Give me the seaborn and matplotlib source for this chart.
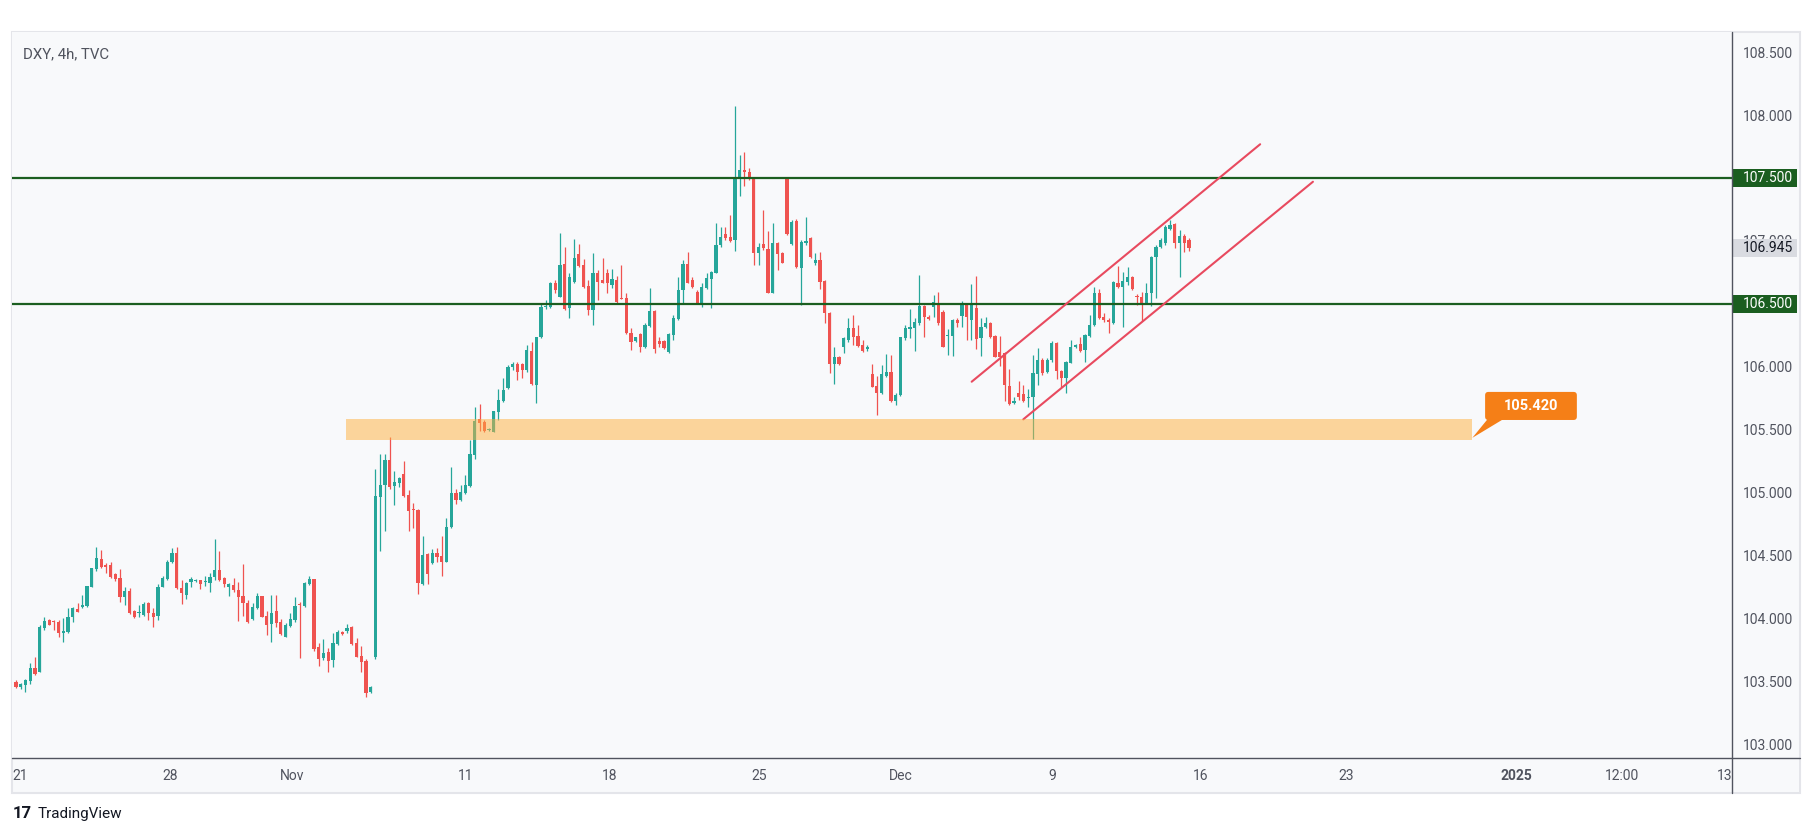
import numpy as np
import pandas as pd
import matplotlib
matplotlib.use('Agg')
import matplotlib.pyplot as plt
import matplotlib.transforms as mtransforms
from matplotlib.patches import Rectangle, Polygon, FancyBboxPatch
from matplotlib.lines import Line2D
import seaborn as sns

# ---------------- DATA (DXY, 4h candles) ----------------
OPEN = [
    103.497, 103.458, 103.471, 103.505, 103.603, 103.577, 103.926, 103.987, 103.974, 103.974,
    103.881, 103.895, 104.014, 104.072, 104.088, 104.099, 104.252, 104.390, 104.470, 104.425,
    104.425, 104.353, 104.319, 104.168, 104.221, 104.062, 104.040, 104.027, 104.120, 104.046,
    104.019, 104.252, 104.311, 104.451, 104.517, 104.239, 104.186, 104.292, 104.300, 104.305,
    104.292, 104.279, 104.327, 104.385, 104.319, 104.252, 104.266, 104.226, 104.178, 104.120,
    103.993, 104.080, 104.178, 104.019, 103.956, 104.059, 103.972, 103.855, 103.940, 103.987,
    104.107, 104.099, 104.274, 104.311, 103.776, 103.683, 103.736, 103.670, 103.794, 103.895,
    103.903, 103.929, 103.802, 103.701, 103.664, 103.418, 103.691,
    104.968, 105.061, 105.259, 105.053, 105.079, 105.148, 104.981, 104.865, 104.862, 104.274,
    104.512, 104.438, 104.517, 104.496, 104.451, 104.724, 104.994, 104.941, 104.994, 105.053,
    105.299, 105.582, 105.564, 105.500, 105.484, 105.643, 105.730, 105.828,
    105.995, 106.021, 106.021, 105.974, 106.128, 105.855, 106.233, 106.474, 106.477, 106.668,
    106.557, 106.816, 106.464, 106.676, 106.896, 106.808, 106.641, 106.451, 106.747, 106.689,
    106.742, 106.649, 106.689, 106.543, 106.543, 106.271, 106.207, 106.260, 106.154, 106.324,
    106.445, 106.207, 106.207, 106.120, 106.252, 106.377, 106.610, 106.816, 106.689, 106.596,
    106.509, 106.623, 106.695, 106.747, 106.967, 107.055, 107.033, 107.007, 107.497, 107.563,
    107.550, 107.497, 106.906, 106.975, 106.933, 106.588, 106.986, 106.901, 107.489, 106.975,
    107.161, 106.782, 106.981, 107.020, 106.822, 106.848, 106.684, 106.429,
    106.022, 106.080, 106.154, 106.212, 106.305, 106.244, 106.173, 106.138, 105.942, 105.847,
    105.789, 105.926, 105.961, 105.730, 105.775, 106.226, 106.297, 106.305, 106.345, 106.483,
    106.393, 106.472, 106.509, 106.438, 106.244, 106.244, 106.371, 106.403, 106.491, 106.371,
    106.464, 106.226, 106.313, 106.345, 106.244, 106.120, 106.112, 105.847, 105.709, 105.789,
    105.783, 105.749, 105.762, 105.942, 106.054, 105.961, 106.054, 106.191, 105.969, 105.908,
    106.032, 106.154, 106.181, 106.133, 106.244, 106.332, 106.589, 106.393, 106.371, 106.345,
    106.668, 106.636, 106.676, 106.710, 106.562, 106.557, 106.509, 106.583, 106.869, 106.949,
    106.980, 107.092, 107.134, 106.980, 107.039, 107.007,
]
HIGH = [
    103.511, 103.489, 103.516, 103.648, 103.691, 103.948, 104.014, 103.993, 103.987, 103.987,
    104.001, 104.080, 104.093, 104.120, 104.186, 104.258, 104.400, 104.570, 104.544, 104.438,
    104.451, 104.358, 104.390, 104.252, 104.239, 104.067, 104.107, 104.133, 104.133, 104.080,
    104.274, 104.337, 104.464, 104.557, 104.570, 104.305, 104.292, 104.332, 104.311, 104.307,
    104.337, 104.358, 104.628, 104.538, 104.332, 104.284, 104.319, 104.292, 104.432, 104.146,
    104.125, 104.205, 104.180, 104.059, 104.186, 104.186, 103.993, 103.961, 104.040, 104.168,
    104.133, 104.292, 104.340, 104.315, 103.802, 103.834, 103.762, 103.881, 103.908, 103.900,
    103.956, 103.940, 103.842, 103.781, 103.675, 103.463, 105.185,
    105.307, 105.307, 105.439, 105.174, 105.127, 105.254, 105.021, 104.915, 104.867, 104.655,
    104.523, 104.549, 104.557, 104.655, 104.796, 105.201, 105.026, 105.061, 105.140, 105.418,
    105.678, 105.704, 105.577, 105.512, 105.652, 105.821, 105.908, 106.014,
    106.040, 106.040, 106.027, 106.172, 106.199, 106.239, 106.498, 106.530, 106.676, 106.689,
    107.060, 106.954, 106.742, 107.012, 106.975, 106.853, 106.689, 106.901, 106.769, 106.861,
    106.774, 106.774, 106.721, 106.808, 106.588, 106.305, 106.240, 106.265, 106.345, 106.623,
    106.451, 106.239, 106.212, 106.271, 106.411, 106.716, 106.848, 106.914, 106.716, 106.610,
    106.663, 106.742, 106.763, 107.145, 107.108, 107.113, 107.206, 108.072, 107.682, 107.709,
    107.577, 107.505, 106.986, 107.245, 107.081, 107.145, 106.994, 106.914, 107.497, 107.166,
    107.171, 107.007, 107.192, 107.028, 106.906, 106.914, 106.689, 106.437,
    106.160, 106.085, 106.239, 106.385, 106.411, 106.332, 106.212, 106.173, 106.022, 105.926,
    106.014, 106.101, 106.093, 105.789, 106.239, 106.332, 106.456, 106.385, 106.729, 106.491,
    106.411, 106.570, 106.597, 106.451, 106.297, 106.377, 106.385, 106.525, 106.509, 106.658,
    106.721, 106.385, 106.393, 106.358, 106.252, 106.244, 106.120, 105.979, 105.762, 105.889,
    105.855, 105.820, 106.093, 106.146, 106.067, 106.067, 106.207, 106.199, 105.974, 106.048,
    106.212, 106.180, 106.234, 106.260, 106.411, 106.631, 106.615, 106.430, 106.385, 106.684,
    106.801, 106.756, 106.790, 106.721, 106.578, 106.597, 106.663, 106.880, 106.967, 107.020,
    107.126, 107.166, 107.145, 107.086, 107.055, 107.020,
]
LOW = [
    103.444, 103.442, 103.418, 103.479, 103.550, 103.572, 103.908, 103.945, 103.908, 103.855,
    103.815, 103.881, 103.974, 104.051, 104.080, 104.093, 104.250, 104.379, 104.398, 104.364,
    104.324, 104.300, 104.133, 104.107, 104.035, 104.001, 104.014, 104.019, 103.987, 103.934,
    103.987, 104.247, 104.305, 104.443, 104.231, 104.115, 104.152, 104.252, 104.290, 104.231,
    104.258, 104.213, 104.305, 104.300, 104.247, 104.178, 104.213, 103.982, 104.019, 103.966,
    103.987, 104.072, 104.009, 103.868, 103.815, 103.934, 103.868, 103.850, 103.934, 103.974,
    103.683, 104.093, 104.266, 103.744, 103.625, 103.670, 103.577, 103.611, 103.789, 103.870,
    103.881, 103.789, 103.691, 103.577, 103.373, 103.405, 103.680,
    104.539, 104.698, 105.026, 104.902, 105.047, 104.968, 104.698, 104.716, 104.194, 104.266,
    104.274, 104.433, 104.451, 104.340, 104.446, 104.716, 104.910, 104.936, 104.989, 105.047,
    105.267, 105.492, 105.484, 105.492, 105.480, 105.577, 105.722, 105.820,
    105.974, 105.894, 105.908, 105.961, 105.855, 105.714, 106.226, 106.456, 106.464, 106.583,
    106.551, 106.451, 106.384, 106.663, 106.795, 106.623, 106.411, 106.332, 106.530, 106.663,
    106.583, 106.623, 106.509, 106.535, 106.260, 106.133, 106.200, 106.120, 106.146, 106.313,
    106.112, 106.159, 106.138, 106.112, 106.212, 106.371, 106.509, 106.663, 106.623, 106.498,
    106.477, 106.615, 106.464, 106.742, 106.954, 107.007, 106.994, 106.922, 107.357, 107.436,
    107.484, 106.808, 106.808, 106.927, 106.583, 106.583, 106.769, 106.822, 107.047, 106.967,
    106.782, 106.490, 106.967, 106.861, 106.808, 106.615, 106.345, 105.947,
    105.863, 106.014, 106.107, 106.199, 106.173, 106.160, 106.120, 106.128, 105.836, 105.616,
    105.783, 105.921, 105.722, 105.696, 105.767, 106.212, 106.226, 106.128, 106.332, 106.234,
    106.371, 106.398, 106.332, 106.154, 106.093, 106.085, 106.318, 106.318, 106.212, 106.212,
    106.138, 106.085, 106.305, 106.226, 106.075, 106.006, 105.730, 105.696, 105.704, 105.736,
    105.722, 105.683, 105.423, 105.855, 105.934, 105.948, 106.040, 105.900, 105.842, 105.794,
    106.027, 106.150, 106.120, 106.040, 106.239, 106.324, 106.377, 106.358, 106.271, 106.340,
    106.623, 106.318, 106.650, 106.610, 106.491, 106.366, 106.499, 106.483, 106.544, 106.941,
    106.967, 107.087, 106.941, 106.715, 106.914, 106.922,
]
CLOSE = [
    103.452, 103.479, 103.511, 103.603, 103.558, 103.934, 103.979, 103.948, 103.972, 103.881,
    103.903, 104.014, 104.080, 104.054, 104.107, 104.258, 104.398, 104.477, 104.406, 104.411,
    104.332, 104.311, 104.168, 104.221, 104.046, 104.009, 104.043, 104.115, 104.046, 104.014,
    104.252, 104.319, 104.451, 104.517, 104.239, 104.199, 104.279, 104.311, 104.302, 104.274,
    104.294, 104.332, 104.385, 104.305, 104.274, 104.271, 104.226, 104.173, 104.120, 103.974,
    104.088, 104.178, 104.014, 103.948, 104.046, 103.961, 103.876, 103.948, 103.993, 104.099,
    104.104, 104.279, 104.311, 103.754, 103.677, 103.728, 103.664, 103.802, 103.895, 103.874,
    103.921, 103.797, 103.696, 103.656, 103.410, 103.452, 104.973,
    105.061, 105.259, 105.042, 105.087, 105.113, 104.973, 104.857, 104.860, 104.279, 104.504,
    104.353, 104.523, 104.491, 104.451, 104.729, 104.994, 104.941, 105.002, 105.061, 105.307,
    105.572, 105.551, 105.492, 105.505, 105.649, 105.736, 105.815, 105.995,
    106.021, 105.961, 105.974, 106.133, 105.863, 106.233, 106.477, 106.480, 106.668, 106.610,
    106.808, 106.456, 106.710, 106.861, 106.800, 106.636, 106.451, 106.747, 106.676, 106.668,
    106.663, 106.695, 106.517, 106.540, 106.271, 106.199, 106.233, 106.154, 106.332, 106.445,
    106.138, 106.181, 106.146, 106.260, 106.384, 106.610, 106.816, 106.668, 106.631, 106.509,
    106.631, 106.702, 106.755, 106.967, 107.028, 107.020, 107.002, 107.510, 107.563, 107.550,
    107.489, 106.906, 106.954, 106.941, 106.588, 106.986, 106.896, 106.827, 107.055, 107.153,
    106.790, 106.994, 107.002, 106.869, 106.848, 106.676, 106.424, 106.021,
    106.080, 106.022, 106.226, 106.305, 106.239, 106.165, 106.128, 106.160, 105.842, 105.789,
    105.942, 105.961, 105.730, 105.775, 106.234, 106.305, 106.313, 106.358, 106.483, 106.393,
    106.377, 106.517, 106.345, 106.160, 106.252, 106.371, 106.345, 106.499, 106.398, 106.491,
    106.218, 106.313, 106.350, 106.234, 106.080, 106.080, 105.855, 105.704, 105.730, 105.762,
    105.730, 105.762, 105.948, 106.054, 105.948, 106.054, 106.191, 105.969, 105.908, 106.040,
    106.160, 106.173, 106.128, 106.252, 106.332, 106.589, 106.385, 106.371, 106.358, 106.676,
    106.636, 106.684, 106.710, 106.615, 106.552, 106.499, 106.589, 106.875, 106.954, 107.007,
    107.113, 107.126, 106.980, 107.039, 106.986, 106.945,
]

X_TICK_POS = [0.8, 32.6, 58.3, 95.0, 125.6, 157.1, 187.0, 219.1, 250.4, 281.2, 317.2, 339.5, 361.2]
X_TICK_LABELS = ['21', '28', 'Nov', '11', '18', '25', 'Dec', '9', '16', '23', '2025', '12:00', '13']
Y_TICKS = [103.0, 103.5, 104.0, 104.5, 105.0, 105.5, 106.0, 106.5, 107.0, 107.5, 108.0, 108.5]

LEVELS = [107.5, 106.5]
LAST_PRICE = 106.945
ZONE_BARS = [69.8, 307.8]
ZONE_PRICES = [105.415, 105.585]
ZONE_LABEL = '105.420'
CHANNEL_UPPER_X = [202.05, 263.04]
CHANNEL_UPPER_Y = [105.881, 107.768]
CHANNEL_LOWER_X = [212.96, 274.2]
CHANNEL_LOWER_Y = [105.582, 107.470]
TITLE = 'DXY, 4h, TVC'

# ---------------- STYLE ----------------
sns.set_theme(style='white')
plt.rcParams['font.family'] = ['Roboto', 'DejaVu Sans']

UP = '#26a69a'
DN = '#ef5350'
GREEN = '#1b5e20'
CHAN = '#e84a5f'
BG = '#f8f9fb'
TXT = '#50535e'
SEP = '#50535e'

W, H = 1815, 836
fig = plt.figure(figsize=(W / 100, H / 100), dpi=100)
fig.patch.set_facecolor('white')


def fx(px):
    return px / W


def fy(py):
    return 1 - py / H


L, R, T, B = 12, 1732, 32, 758
PANEL_R, PANEL_B = 1800, 793

fig.patches.append(Rectangle((fx(L), fy(PANEL_B)), fx(PANEL_R) - fx(L), fy(T) - fy(PANEL_B),
                             transform=fig.transFigure, facecolor=BG, edgecolor='#e4e5ea',
                             lw=1.5, zorder=-1))

ax = fig.add_axes([fx(L), fy(B), fx(R) - fx(L), fy(T) - fy(B)])
ax.set_facecolor(BG)
for s in ax.spines.values():
    s.set_visible(False)
ax.grid(False)

df = pd.DataFrame({'open': OPEN, 'high': HIGH, 'low': LOW, 'close': CLOSE})
df['bar'] = np.arange(len(df))
up = (df['close'] >= df['open']).values
colors = np.where(up, UP, DN)

ax.vlines(df['bar'], df['low'], df['high'], colors=colors, lw=0.9, zorder=2)
body_h = np.maximum((df['close'] - df['open']).abs().values, 0.009)
ax.bar(df['bar'], body_h, bottom=np.minimum(df['open'], df['close']).values,
       width=0.68, color=colors, linewidth=0, zorder=3)

# horizontal key levels
for lv in LEVELS:
    ax.axhline(lv, color=GREEN, lw=1.6, zorder=4)

# rising channel
sns.lineplot(x=CHANNEL_UPPER_X, y=CHANNEL_UPPER_Y, ax=ax, color=CHAN, lw=1.5, zorder=5, legend=False)
sns.lineplot(x=CHANNEL_LOWER_X, y=CHANNEL_LOWER_Y, ax=ax, color=CHAN, lw=1.5, zorder=5, legend=False)

# demand zone
ax.add_patch(Rectangle((ZONE_BARS[0], ZONE_PRICES[0]), ZONE_BARS[1] - ZONE_BARS[0],
                       ZONE_PRICES[1] - ZONE_PRICES[0], facecolor='#ffb13d', alpha=0.5,
                       edgecolor='none', zorder=6))

# callout
px_per_bar = 1720 / (362.8 + 0.85)
px_per_price = 726 / (108.660 - 102.891)
cx0, cx1 = ZONE_BARS[1] + 2.8, ZONE_BARS[1] + 22.2
cy0, cy1 = ZONE_PRICES[1] - 0.008, ZONE_PRICES[1] + 0.215
ax.add_patch(FancyBboxPatch((cx0, cy0), cx1 - cx0, cy1 - cy0,
                            boxstyle='round,pad=0,rounding_size=0.7',
                            mutation_aspect=px_per_bar / px_per_price,
                            facecolor='#f57f17', edgecolor='none', zorder=8, clip_on=False))
ax.add_patch(Polygon([(cx0 + 0.6, cy0 + 0.01), (cx0 + 4.0, cy0 + 0.01),
                      (ZONE_BARS[1] + 0.1, ZONE_PRICES[0] + 0.02)],
                     closed=True, facecolor='#f57f17', edgecolor='none', zorder=8))
ax.text((cx0 + cx1) / 2, (cy0 + cy1) / 2, ZONE_LABEL, color='white', fontsize=10.5,
        fontweight='bold', ha='center', va='center', zorder=9)

# axes limits / ticks
ax.set_xlim(-0.85, 362.8)
ax.set_ylim(102.891, 108.660)
ax.set_xticks(X_TICK_POS)
ax.set_xticklabels(X_TICK_LABELS)
ax.tick_params(axis='x', length=0, pad=8, labelsize=10, labelcolor=TXT)
for t in ax.get_xticklabels():
    if t.get_text() == '2025':
        t.set_fontweight('bold')
ax.yaxis.tick_right()
ax.set_yticks(Y_TICKS)
ax.set_yticklabels([f'{v:.3f}' for v in Y_TICKS])
ax.tick_params(axis='y', length=0, pad=8, labelsize=10, labelcolor=TXT)

# price axis labels
trans = mtransforms.blended_transform_factory(ax.transAxes, ax.transData)
bw = 65 / 1720
bh = 18 / px_per_price
for lv in LEVELS:
    ax.add_patch(Rectangle((1.0, lv - bh / 2), bw, bh, transform=trans, facecolor=GREEN,
                           edgecolor='none', clip_on=False, zorder=10))
    ax.text(1 + 11 / 1720, lv, f'{lv:.3f}', transform=trans, color='white', fontsize=10,
            ha='left', va='center', zorder=11, clip_on=False)
ax.add_patch(Rectangle((1.0, LAST_PRICE - bh / 2), bw, bh, transform=trans, facecolor='#d9dbe1',
                       edgecolor='none', clip_on=False, zorder=10))
ax.text(1 + 11 / 1720, LAST_PRICE, f'{LAST_PRICE:.3f}', transform=trans, color='#131722',
        fontsize=10, ha='left', va='center', zorder=11, clip_on=False)

# title
ax.text(11 / 1720, (B - 54) / (B - T), TITLE, transform=ax.transAxes, fontsize=10.8,
        color=TXT, ha='left', va='center', zorder=12)

# cover for the time-axis corner under the price scale
fig.patches.append(Rectangle((fx(R + 1), fy(PANEL_B - 1)), fx(PANEL_R - 1) - fx(R + 1),
                             fy(B + 1) - fy(PANEL_B - 1), transform=fig.transFigure,
                             facecolor=BG, edgecolor='none', zorder=5))
# separators
fig.add_artist(Line2D([fx(L), fx(PANEL_R)], [fy(B), fy(B)], transform=fig.transFigure,
                      color=SEP, lw=1.0, zorder=6))
fig.add_artist(Line2D([fx(R), fx(R)], [fy(T), fy(PANEL_B)], transform=fig.transFigure,
                      color=SEP, lw=1.0, zorder=6))

# TradingView brand
fig.text(fx(13), fy(814), '17', fontsize=12, fontweight='bold', color='#131722',
         ha='left', va='center')
fig.text(fx(38), fy(814), 'TradingView', fontsize=11, color='#131722', ha='left', va='center')

fig.savefig('out.png', dpi=100, facecolor='white')
